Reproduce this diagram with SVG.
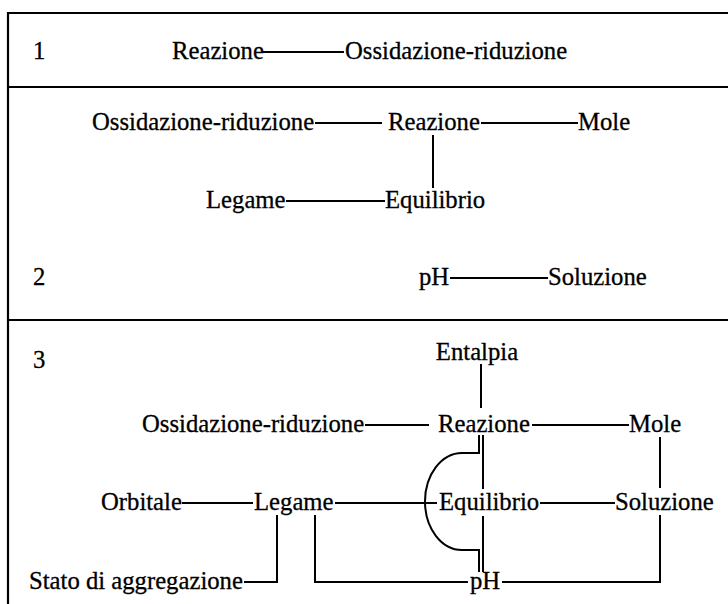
<svg xmlns="http://www.w3.org/2000/svg" width="728" height="604" viewBox="0 0 728 604" font-family="'Liberation Serif', 'Times New Roman', Times, serif">
<style>
  text { font-family: "Liberation Serif", "Times New Roman", Times, serif; font-size: 24.7px; fill: #000; stroke: #000; stroke-width: 0.3; }
  .frame { stroke: #000; stroke-width: 2.2; fill: none; }
  .c { stroke: #000; stroke-width: 2; fill: none; }
</style>
<rect x="0" y="0" width="728" height="604" fill="#fff"/>
<g id="frame">
  <line class="frame" x1="8" y1="12" x2="8" y2="604"/>
  <line class="frame" x1="7" y1="13" x2="728" y2="13"/>
  <line class="frame" x1="8" y1="87" x2="728" y2="87"/>
  <line class="frame" x1="8" y1="320" x2="728" y2="320"/>
</g>
<g id="labels">
  <text x="33" y="59">1</text>
  <text x="33" y="285">2</text>
  <text x="33" y="368">3</text>
</g>
<g id="connectors">
  <line class="c" x1="263" y1="52" x2="344" y2="52"/>
  <line class="c" x1="315" y1="123" x2="382" y2="123"/>
  <line class="c" x1="481" y1="123" x2="578" y2="123"/>
  <line class="c" x1="433" y1="135" x2="433" y2="188"/>
  <line class="c" x1="286" y1="201" x2="385" y2="201"/>
  <line class="c" x1="450" y1="278" x2="548" y2="278"/>
  <line class="c" x1="481" y1="364" x2="481" y2="408"/>
  <line class="c" x1="365" y1="425" x2="429" y2="425"/>
  <line class="c" x1="532" y1="425" x2="629" y2="425"/>
  <line class="c" x1="660" y1="437" x2="660" y2="488"/>
  <line class="c" x1="182" y1="503" x2="253" y2="503"/>
  <line class="c" x1="335" y1="503" x2="437" y2="503"/>
  <line class="c" x1="540" y1="503" x2="615" y2="503"/>
  <path class="c" d="M660,515 V582 H502"/>
  <path class="c" d="M315,515 V582 H468"/>
  <path class="c" d="M244,582 H277 V515"/>
  <line class="c" x1="483" y1="435" x2="483" y2="489"/>
  <line class="c" x1="483" y1="516" x2="483" y2="572"/>
  <path class="c" d="M479,435 V453 H462 A37,48.5 0 0 0 462,550 H479 V572"/>
</g>
<g id="s1-reazione"><text x="172" y="59">Reazione</text></g>
<g id="s1-ossidazione"><text x="345" y="59">Ossidazione-riduzione</text></g>
<g id="s2-ossidazione"><text x="92" y="130">Ossidazione-riduzione</text></g>
<g id="s2-reazione"><text x="388" y="130">Reazione</text></g>
<g id="s2-mole"><text x="578" y="130">Mole</text></g>
<g id="s2-legame"><text x="206" y="208">Legame</text></g>
<g id="s2-equilibrio"><text x="385" y="208">Equilibrio</text></g>
<g id="s2-ph"><text x="419" y="285">pH</text></g>
<g id="s2-soluzione"><text x="548" y="285">Soluzione</text></g>
<g id="s3-entalpia"><text x="477" y="360" text-anchor="middle">Entalpia</text></g>
<g id="s3-ossidazione"><text x="142" y="432">Ossidazione-riduzione</text></g>
<g id="s3-reazione"><text x="438" y="432">Reazione</text></g>
<g id="s3-mole"><text x="629" y="432">Mole</text></g>
<g id="s3-orbitale"><text x="101" y="510">Orbitale</text></g>
<g id="s3-legame"><text x="254" y="510">Legame</text></g>
<g id="s3-equilibrio"><text x="439" y="510">Equilibrio</text></g>
<g id="s3-soluzione"><text x="615" y="510">Soluzione</text></g>
<g id="s3-ph"><text x="470" y="589">pH</text></g>
<g id="s3-stato"><text x="29" y="589">Stato di aggregazione</text></g>
</svg>
